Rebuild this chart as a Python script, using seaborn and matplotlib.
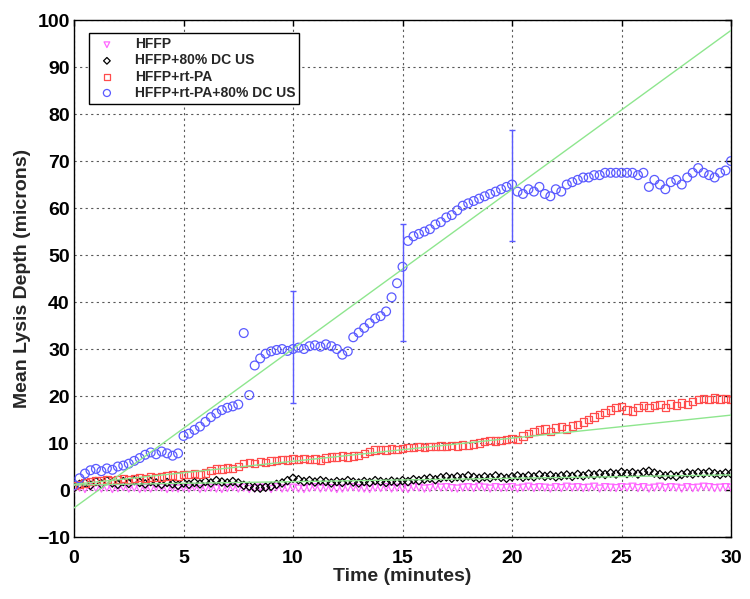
import numpy as np
import pandas as pd
import matplotlib
matplotlib.use("Agg")
import matplotlib.pyplot as plt
import seaborn as sns

# -----------------------------
# Data (one sample every 0.25 min)
# -----------------------------
time_min = np.arange(0, 30.001, 0.25)

hffp = [
    0.3, 0.5, 0.2, 0.6, 0.4, 0.3, 0.5, 0.2, 0.4, 0.6, 0.3, 0.5, 0.2, 0.4, 0.3, 0.6, 0.5, 0.2, 0.4, 0.3,
    0.5, 0.3, 0.6, 0.2, 0.4, 0.5, 0.3, 0.2, 0.4, 0.6, 0.3, 0.5, 0.2, 0.3, 0.5, 0.4, 0.2, 0.6, 0.3, 0.4,
    0.5, 0.3, 0.2, 0.4, 0.6, 0.3, 0.5, 0.4, 0.2, 0.3, 0.5, 0.6, 0.4, 0.3, 0.2, 0.5, 0.4, 0.6, 0.3, 0.5,
    0.4, 0.2, 0.6, 0.5, 0.3, 0.4, 0.7, 0.5, 0.6, 0.4, 0.3, 0.5, 0.6, 0.4, 0.7, 0.5, 0.3, 0.6, 0.4, 0.5,
    0.6, 0.3, 0.5, 0.7, 0.4, 0.6, 0.5, 0.3, 0.6, 0.4, 0.7, 0.5, 0.6, 0.4, 0.5, 0.7, 0.3, 0.6, 0.5, 0.4,
    0.6, 0.5, 0.7, 0.4, 0.6, 0.3, 0.5, 0.7, 0.4, 0.6, 0.5, 0.3, 0.6, 0.4, 0.5, 0.7, 0.6, 0.4, 0.5, 0.6,
    0.5,
]

hffp_us = [
    0.5, 1.2, 1.5, 1.0, 1.8, 1.3, 2.0, 1.5, 1.2, 1.8, 1.4, 2.0, 1.6, 1.3, 1.8, 1.5, 1.2, 1.6, 1.3, 1.0,
    1.5, 1.2, 1.6, 1.3, 1.8, 1.5, 2.0, 1.7, 1.5, 1.8, 1.5, 1.0, 0.8, 0.5, 0.4, 0.6, 0.8, 1.2, 1.5, 2.0,
    2.5, 2.2, 1.8, 2.0, 1.7, 2.0, 1.8, 1.5, 1.8, 1.6, 2.0, 1.7, 1.5, 1.8, 1.6, 2.0, 1.8, 1.6, 1.9, 1.7,
    2.0, 1.8, 2.2, 2.0, 2.3, 2.5, 2.2, 2.6, 2.8, 2.5, 2.8, 2.6, 3.0, 2.7, 2.5, 2.8, 2.6, 3.0, 2.7, 2.5,
    2.8, 3.0, 2.7, 3.0, 2.8, 3.2, 2.9, 3.1, 2.8, 3.0, 3.2, 2.9, 3.3, 3.0, 3.4, 3.2, 3.5, 3.3, 3.6, 3.4,
    3.8, 3.5, 3.7, 3.4, 3.8, 4.0, 3.6, 3.3, 3.0, 3.2, 2.9, 3.3, 3.6, 3.4, 3.7, 3.5, 3.8, 3.5, 3.3, 3.6,
    3.5,
]

hffp_rtpa = [
    1.0, 1.2, 1.5, 1.8, 2.0, 2.0, 2.2, 2.0, 2.3, 2.5, 2.3, 2.5, 2.6, 2.5, 2.8, 2.6, 2.8, 3.0, 3.2, 3.0,
    3.3, 3.3, 3.5, 3.3, 3.6, 4.2, 4.5, 4.5, 4.7, 4.6, 5.0, 5.6, 5.8, 5.7, 6.0, 5.9, 6.2, 6.3, 6.5, 6.4,
    6.6, 6.5, 6.7, 6.5, 6.6, 6.4, 6.8, 7.0, 7.0, 7.2, 7.0, 7.2, 7.3, 7.8, 8.2, 8.5, 8.6, 8.5, 8.7, 8.6,
    8.8, 9.0, 9.0, 9.2, 9.0, 9.3, 9.2, 9.4, 9.3, 9.5, 9.4, 9.6, 9.5, 9.8, 10.0, 10.3, 10.5, 10.4, 10.6, 10.8,
    11.0, 10.8, 11.5, 12.0, 12.5, 12.8, 13.0, 12.5, 13.2, 13.5, 13.0, 13.6, 14.0, 14.5, 15.0, 15.5, 16.0, 16.5, 17.0, 17.5,
    17.8, 17.0, 16.8, 17.5, 18.0, 17.5, 18.0, 18.2, 17.6, 18.3, 18.0, 18.5, 18.2, 18.8, 19.2, 19.5, 19.3, 19.6, 19.4, 19.5,
    19.2,
]

hffp_rtpa_us = [
    1.0, 2.5, 3.5, 4.2, 4.5, 4.0, 4.6, 4.3, 5.0, 5.2, 5.6, 6.2, 6.8, 7.5, 8.0, 7.6, 8.2, 7.8, 7.3, 7.8,
    11.5, 12.0, 12.8, 13.5, 14.5, 15.5, 16.3, 17.0, 17.5, 17.8, 18.2, 33.4, 20.2, 26.5, 28.0, 29.0, 29.5, 29.8, 30.0, 29.6,
    30.0, 30.3, 30.0, 30.6, 30.8, 30.5, 31.0, 30.6, 30.0, 28.8, 29.5, 32.5, 33.5, 34.5, 35.5, 36.5, 37.0, 38.0, 41.0, 44.0,
    47.5, 53.0, 54.0, 54.5, 55.0, 55.5, 56.5, 57.0, 58.0, 58.5, 59.5, 60.5, 61.0, 61.5, 62.0, 62.5, 63.0, 63.5, 64.0, 64.5,
    65.0, 63.5, 63.0, 64.0, 63.5, 64.5, 63.0, 62.5, 64.0, 63.5, 65.0, 65.5, 66.0, 66.5, 66.5, 67.0, 67.0, 67.5, 67.5, 67.5,
    67.5, 67.5, 67.5, 67.0, 67.5, 64.5, 66.0, 65.0, 64.0, 65.5, 66.0, 65.0, 66.5, 67.5, 68.5, 67.5, 67.0, 66.5, 67.5, 68.0,
    70.0,
]

# error bars on the rt-PA + US series
err_time = [10, 15, 20]
err_center = [30.4, 44.2, 64.8]
err_half = [11.9, 12.5, 11.8]

labels = ["HFFP", "HFFP+80% DC US", "HFFP+rt-PA", "HFFP+rt-PA+80% DC US"]

df = pd.DataFrame({
    "time": time_min,
    labels[0]: hffp,
    labels[1]: hffp_us,
    labels[2]: hffp_rtpa,
    labels[3]: hffp_rtpa_us,
})

# -----------------------------
# Style (MATLAB-like)
# -----------------------------
sns.set_theme(style="white")
plt.rcParams["font.family"] = ["Liberation Sans", "DejaVu Sans"]
plt.rcParams["font.weight"] = "bold"

fig = plt.figure(figsize=(7.5, 5.99), dpi=100)
ax = fig.add_axes([0.0987, 0.1035, 0.876, 0.863])
ax.set_xlim(0, 30)
ax.set_ylim(-10, 100)

styles = [
    ("v", "#ff66ff", 26),
    ("D", "black", 18),
    ("s", "#ff4c4c", 28),
    ("o", "#5a5aff", 40),
]

for name, (mk, col, size) in zip(labels, styles):
    sns.scatterplot(data=df, x="time", y=name, ax=ax, marker=mk, s=size,
                    facecolor="none", edgecolor=col, linewidth=0.9,
                    label=name, zorder=3)

# linear fits over the first 20 minutes, extended across the axis
fit_part = df[df["time"] <= 20]
for name in labels[1:]:
    sns.regplot(data=fit_part, x="time", y=name, ax=ax, scatter=False, ci=None,
                truncate=False, color="#8ee68e", line_kws={"lw": 1.0, "zorder": 4})

ax.errorbar(err_time, err_center, yerr=err_half, fmt="none", ecolor="#5a5aff",
            elinewidth=1.0, capsize=2, zorder=4)

ax.set_xlim(0, 30)
ax.set_ylim(-10, 100)
ax.set_xticks(range(0, 31, 5))
ax.set_yticks(range(-10, 101, 10))
ax.grid(True, color="0.35", linestyle=(0, (2, 3)), linewidth=0.8)
ax.tick_params(direction="in", top=True, right=True, length=4, width=1,
               labelsize=14, colors="black")
ax.tick_params(axis="x", pad=9)
ax.tick_params(axis="y", pad=3)
for s in ax.spines.values():
    s.set_color("black")
    s.set_linewidth(1.0)

ax.set_xlabel("Time (minutes)", fontsize=14, fontweight="bold", labelpad=1)
ax.set_ylabel("Mean Lysis Depth (microns)", fontsize=14, fontweight="bold", labelpad=4)

leg = ax.legend(loc="upper left", bbox_to_anchor=(0.012, 0.988), fontsize=10,
                frameon=True, fancybox=False, edgecolor="black", framealpha=1,
                borderpad=0.3, labelspacing=0.15, handletextpad=1.0,
                markerscale=0.8, scatterpoints=1)
leg.get_frame().set_linewidth(1.0)

plt.savefig("out.png", dpi=100)
plt.close()
